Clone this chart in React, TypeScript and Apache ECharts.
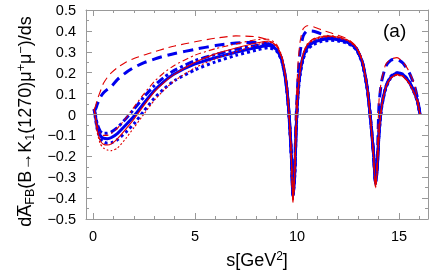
import React, { useEffect, useRef } from "react";
import * as echarts from "echarts";

const S = [0.05, 0.1, 0.2, 0.35, 0.5, 0.7, 0.9, 1.2, 1.6, 2.0,
  2.5, 3.0, 3.5, 4.0, 5.0, 6.0, 7.0, 8.0, 8.6, 9.0,
  9.25, 9.45, 9.6, 9.72, 9.8, 9.88, 9.96, 10.05, 10.15, 10.3,
  10.5, 10.8, 11.2, 11.6, 12.0, 12.5, 12.9, 13.2, 13.45, 13.62,
  13.75, 13.85, 13.93, 14.02, 14.15, 14.35, 14.6, 14.9, 15.2, 15.5,
  15.75, 15.9, 16.03];

const blueSolid = [0.025, 0.0, -0.06, -0.1, -0.113, -0.116, -0.11, -0.09, -0.05, -0.008,
  0.055, 0.115, 0.16, 0.195, 0.242, 0.272, 0.298, 0.32, 0.33, 0.31,
  0.26, 0.16, 0.01, -0.2, -0.39, -0.3, -0.06, 0.11, 0.2, 0.275,
  0.32, 0.345, 0.358, 0.362, 0.358, 0.345, 0.315, 0.25, 0.12, -0.04,
  -0.19, -0.33, -0.26, -0.09, 0.04, 0.13, 0.18, 0.198, 0.19, 0.155,
  0.105, 0.065, 0.0];

const blueDotted = [0.025, -0.01, -0.07, -0.115, -0.13, -0.137, -0.135, -0.12, -0.085, -0.045,
  0.018, 0.078, 0.125, 0.163, 0.214, 0.252, 0.283, 0.308, 0.32, 0.303,
  0.255, 0.155, 0.0, -0.2, -0.38, -0.3, -0.07, 0.1, 0.19, 0.265,
  0.31, 0.335, 0.35, 0.355, 0.352, 0.34, 0.31, 0.245, 0.115, -0.045,
  -0.19, -0.32, -0.25, -0.09, 0.035, 0.125, 0.175, 0.195, 0.188, 0.152,
  0.102, 0.062, 0.0];

const blueDashDot = [0.025, 0.005, -0.045, -0.08, -0.09, -0.09, -0.083, -0.062, -0.02, 0.025,
  0.085, 0.138, 0.18, 0.212, 0.258, 0.287, 0.312, 0.33, 0.338, 0.315,
  0.265, 0.165, 0.015, -0.19, -0.385, -0.29, -0.05, 0.115, 0.205, 0.28,
  0.325, 0.348, 0.36, 0.364, 0.36, 0.347, 0.317, 0.252, 0.122, -0.035,
  -0.185, -0.325, -0.255, -0.085, 0.042, 0.133, 0.183, 0.2, 0.192, 0.157,
  0.107, 0.066, 0.0];

const blueDashed = [0.025, 0.022, 0.048, 0.082, 0.103, 0.12, 0.135, 0.168, 0.2, 0.225,
  0.248, 0.265, 0.28, 0.292, 0.312, 0.33, 0.342, 0.345, 0.337, 0.312,
  0.262, 0.162, 0.012, -0.19, -0.39, -0.25, 0.0, 0.18, 0.3, 0.375,
  0.4, 0.398, 0.385, 0.37, 0.36, 0.345, 0.315, 0.25, 0.12, -0.04,
  -0.19, -0.33, -0.22, 0.05, 0.16, 0.23, 0.26, 0.264, 0.245, 0.2,
  0.14, 0.08, 0.0];

const redDashed = [0.025, 0.035, 0.07, 0.11, 0.148, 0.178, 0.2, 0.225, 0.25, 0.268,
  0.285, 0.3, 0.315, 0.328, 0.348, 0.365, 0.376, 0.372, 0.356, 0.326,
  0.272, 0.172, 0.02, -0.2, -0.42, -0.22, 0.05, 0.25, 0.35, 0.41,
  0.425, 0.42, 0.405, 0.392, 0.38, 0.36, 0.325, 0.26, 0.125, -0.04,
  -0.2, -0.35, -0.2, 0.07, 0.17, 0.24, 0.265, 0.272, 0.25, 0.205,
  0.145, 0.082, 0.0];

const redSolid = [0.025, -0.005, -0.075, -0.125, -0.142, -0.146, -0.14, -0.115, -0.07, -0.022,
  0.045, 0.108, 0.155, 0.193, 0.25, 0.29, 0.318, 0.342, 0.352, 0.328,
  0.275, 0.17, 0.01, -0.21, -0.41, -0.3, -0.06, 0.11, 0.21, 0.29,
  0.335, 0.36, 0.372, 0.375, 0.37, 0.355, 0.322, 0.255, 0.12, -0.045,
  -0.2, -0.345, -0.26, -0.09, 0.04, 0.13, 0.175, 0.19, 0.182, 0.148,
  0.1, 0.06, 0.0];

const redDotted = [0.025, -0.01, -0.085, -0.14, -0.16, -0.17, -0.173, -0.16, -0.115, -0.063,
  0.003, 0.068, 0.12, 0.162, 0.224, 0.267, 0.3, 0.332, 0.348, 0.325,
  0.27, 0.165, 0.005, -0.21, -0.42, -0.3, -0.065, 0.105, 0.205, 0.285,
  0.33, 0.355, 0.368, 0.372, 0.367, 0.352, 0.32, 0.252, 0.118, -0.047,
  -0.2, -0.35, -0.26, -0.092, 0.038, 0.127, 0.172, 0.188, 0.18, 0.146,
  0.098, 0.058, 0.0];

const redDashDot = [0.025, 0.0, -0.055, -0.09, -0.1, -0.1, -0.09, -0.065, -0.018, 0.035,
  0.1, 0.158, 0.202, 0.236, 0.284, 0.315, 0.338, 0.358, 0.36, 0.335,
  0.28, 0.172, 0.012, -0.205, -0.415, -0.29, -0.05, 0.12, 0.215, 0.292,
  0.338, 0.362, 0.374, 0.377, 0.372, 0.357, 0.324, 0.257, 0.122, -0.043,
  -0.198, -0.348, -0.258, -0.088, 0.042, 0.132, 0.177, 0.192, 0.184, 0.15,
  0.101, 0.061, 0.0];

const xMajor = [0, 5, 10, 15];
const xMinor = [0, 1, 2, 3, 4, 5, 6, 7, 8, 9, 10, 11, 12, 13, 14, 15, 16];

const BLUE = "#0000ee";
const RED = "#e00000";
const AXIS = "#999999";
const FONT = "Liberation Sans";

function line(name: string, vals: number[], color: string, width: number, type: any, extra: any = {}) {
  return {
    name,
    type: "line",
    data: S.map((s, i) => [s, vals[i]]),
    showSymbol: false,
    smooth: 0.2,
    lineStyle: { color, width, type, cap: "butt" },
    ...extra,
  };
}

export default function App() {
  const ref = useRef<HTMLDivElement>(null);
  useEffect(() => {
    const chart = echarts.init(ref.current!, null, { renderer: "svg" });
    const xBase = { type: "value", min: -0.35, max: 16.42, gridIndex: 0 };
    const yFmt = (v: number) => {
      const r = Math.round(v * 10) / 10;
      if (r === 0) return "0";
      return r < 0 ? "\u2212" + Math.abs(r).toFixed(1) : r.toFixed(1);
    };
    chart.setOption({
      animation: false,
      grid: { left: 86, right: 15, top: 10, bottom: 52 },
      xAxis: [
        {
          ...xBase,
          position: "bottom",
          axisLine: { show: true, onZero: false, lineStyle: { color: AXIS, width: 1 } },
          axisTick: { show: true, inside: true, length: 6, customValues: xMajor, lineStyle: { color: AXIS } },
          axisLabel: { customValues: xMajor, color: "#000", fontSize: 14.5, fontFamily: FONT, margin: 9 },
          splitLine: { show: false },
          name: "{n|s[GeV}{sup|2}{n|]}",
          nameLocation: "middle",
          nameGap: 31,
          nameTextStyle: {
            color: "#000",
            fontFamily: FONT,
            rich: {
              n: { fontSize: 18, lineHeight: 20, fontFamily: FONT, color: "#000" },
              sup: { fontSize: 12, lineHeight: 12, verticalAlign: "top", fontFamily: FONT, color: "#000" },
            },
          },
        },
        {
          ...xBase,
          position: "bottom",
          axisLine: { show: false, onZero: false },
          axisTick: { show: true, inside: true, length: 3, customValues: xMinor, lineStyle: { color: AXIS } },
          axisLabel: { show: false },
          splitLine: { show: false },
        },
        {
          ...xBase,
          position: "top",
          axisLine: { show: true, onZero: false, lineStyle: { color: AXIS, width: 1 } },
          axisTick: { show: true, inside: true, length: 6, customValues: xMajor, lineStyle: { color: AXIS } },
          axisLabel: { show: false },
          splitLine: { show: false },
        },
        {
          ...xBase,
          position: "top",
          axisLine: { show: false, onZero: false },
          axisTick: { show: true, inside: true, length: 3, customValues: xMinor, lineStyle: { color: AXIS } },
          axisLabel: { show: false },
          splitLine: { show: false },
        },
      ],
      yAxis: [
        {
          type: "value",
          min: -0.5,
          max: 0.5,
          interval: 0.1,
          position: "left",
          axisLine: { show: true, onZero: false, lineStyle: { color: AXIS, width: 1 } },
          axisTick: { show: true, inside: true, length: 6, lineStyle: { color: AXIS } },
          minorTick: { show: true, splitNumber: 2, length: 3, lineStyle: { color: AXIS } },
          axisLabel: { formatter: yFmt, color: "#000", fontSize: 14.5, fontFamily: FONT, margin: 10 },
          splitLine: { show: false },
          name: "{n|dA\u0305}{sub|FB}{n|(B\u2192K}{sub|1}{n|(1270)\u03bc}{sup|+}{n|\u03bc}{sup|\u2212}{n|)/ds}",
          nameLocation: "middle",
          nameRotate: 90,
          nameGap: 48,
          nameTextStyle: {
            color: "#000",
            fontFamily: FONT,
            padding: [0, 14, 0, 0],
            rich: {
              n: { fontSize: 18, lineHeight: 22, fontFamily: FONT, color: "#000" },
              sub: { fontSize: 12.5, lineHeight: 12, verticalAlign: "bottom", fontFamily: FONT, color: "#000" },
              sup: { fontSize: 12.5, lineHeight: 12, verticalAlign: "top", fontFamily: FONT, color: "#000" },
            },
          },
        },
        {
          type: "value",
          min: -0.5,
          max: 0.5,
          interval: 0.1,
          position: "right",
          axisLine: { show: true, onZero: false, lineStyle: { color: AXIS, width: 1 } },
          axisTick: { show: true, inside: true, length: 6, lineStyle: { color: AXIS } },
          minorTick: { show: true, splitNumber: 2, length: 3, lineStyle: { color: AXIS } },
          axisLabel: { show: false },
          splitLine: { show: false },
        },
      ],
      graphic: [
        {
          type: "text",
          left: 383,
          top: 21,
          style: { text: "(a)", fontSize: 19, fontFamily: FONT, fill: "#000" },
        },
      ],
      series: [
        line("zero", [], AXIS, 0, "solid", {
          data: [],
          markLine: {
            silent: true,
            symbol: "none",
            label: { show: false },
            lineStyle: { color: AXIS, width: 1, type: "solid" },
            data: [{ yAxis: 0 }],
          },
        }),
        line("blueDashed", blueDashed, BLUE, 3, [10, 6]),
        line("blueDashDot", blueDashDot, BLUE, 3, [8, 3, 3, 3]),
        line("blueSolid", blueSolid, BLUE, 3, "solid"),
        line("blueDotted", blueDotted, BLUE, 3, [3, 3]),
        line("redDashed", redDashed, RED, 1.1, [8, 5]),
        line("redDashDot", redDashDot, RED, 1.1, [6, 3, 2, 3]),
        line("redSolid", redSolid, RED, 1.1, "solid"),
        line("redDotted", redDotted, RED, 1.1, [2, 2]),
      ],
    });
    return () => chart.dispose();
  }, []);
  return <div ref={ref} style={{ position: "fixed", left: 0, top: 0, width: 443, height: 274 }} />;
}
